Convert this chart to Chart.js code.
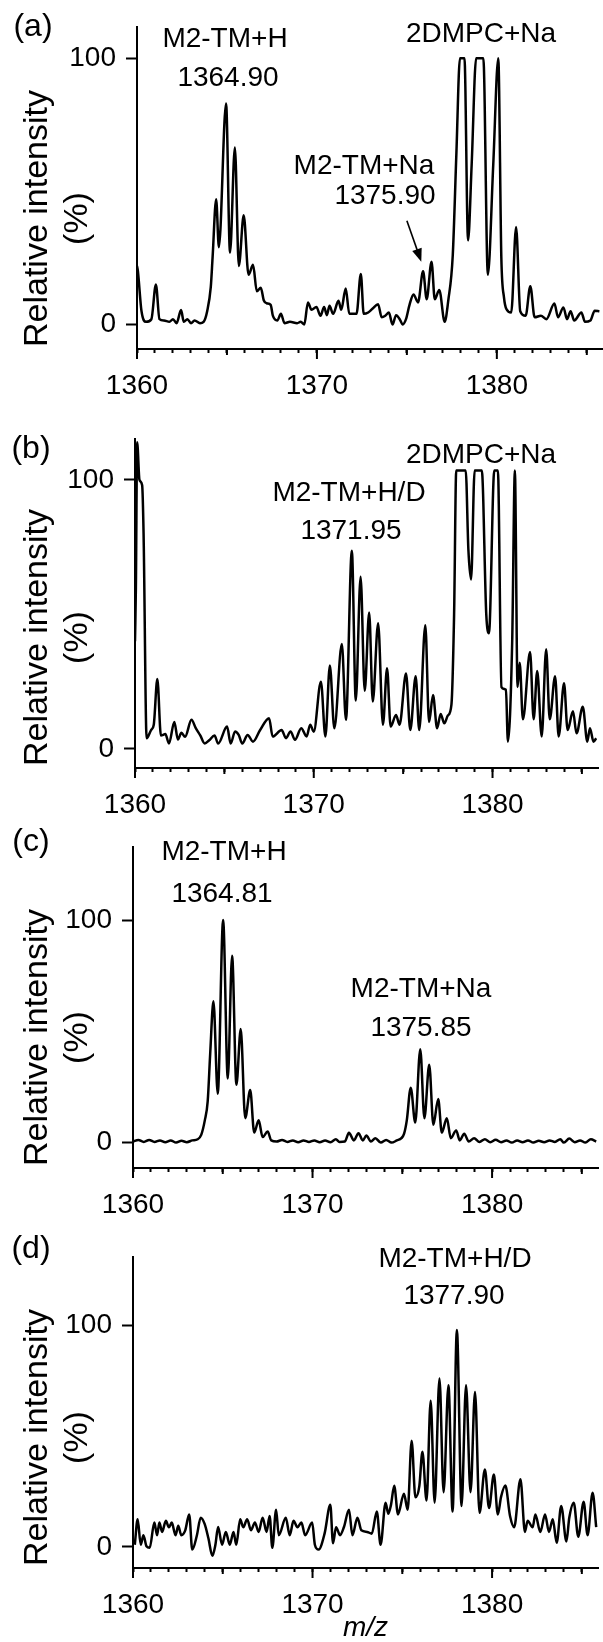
<!DOCTYPE html>
<html>
<head>
<meta charset="utf-8">
<script src="https://cdn.jsdelivr.net/npm/chart.js@4.4.1/dist/chart.umd.min.js"></script>
<style>
  body { margin: 0; background: #fff; width: 603px; height: 1642px; position: relative; overflow: hidden;
         font-family: "Liberation Sans", Arial, sans-serif; }
  canvas { position: absolute; left: 0; }
  .lbl { position: absolute; font-size: 28px; line-height: 1; color: #000; white-space: nowrap;
         transform: translate(-50%, -50%); }
  .tag { font-size: 32px; }
</style>
</head>
<body>
<canvas id="chartA" width="603" height="410" style="top:0px"></canvas>
<canvas id="chartB" width="603" height="410" style="top:410px"></canvas>
<canvas id="chartC" width="603" height="410" style="top:820px"></canvas>
<canvas id="chartD" width="603" height="412" style="top:1230px"></canvas>

<!-- panel tags and peak labels -->
<div class="lbl tag" style="left:33px;top:25px">(a)</div>
<div class="lbl" style="left:225px;top:38px">M2-TM+H</div>
<div class="lbl" style="left:228px;top:77px">1364.90</div>
<div class="lbl" style="left:481px;top:33px">2DMPC+Na</div>
<div class="lbl" style="left:364px;top:165px">M2-TM+Na</div>
<div class="lbl" style="left:385px;top:195px">1375.90</div>

<div class="lbl tag" style="left:31px;top:447px">(b)</div>
<div class="lbl" style="left:481px;top:454px">2DMPC+Na</div>
<div class="lbl" style="left:349px;top:492px">M2-TM+H/D</div>
<div class="lbl" style="left:351px;top:530px">1371.95</div>

<div class="lbl tag" style="left:31px;top:840px">(c)</div>
<div class="lbl" style="left:224px;top:851px">M2-TM+H</div>
<div class="lbl" style="left:222px;top:893px">1364.81</div>
<div class="lbl" style="left:421px;top:988px">M2-TM+Na</div>
<div class="lbl" style="left:421px;top:1027px">1375.85</div>

<div class="lbl tag" style="left:31px;top:1247px">(d)</div>
<div class="lbl" style="left:455px;top:1258px">M2-TM+H/D</div>
<div class="lbl" style="left:454px;top:1295px">1377.90</div>

<script>
// ---- data (m/z, relative intensity %) ----
const mzA = [1360.0, 1360.05, 1360.25, 1360.5, 1360.8, 1361.05, 1361.25, 1361.5, 1361.8, 1362.0, 1362.2, 1362.45, 1362.6, 1362.8, 1363.0, 1363.2, 1363.5, 1363.7, 1363.9, 1364.1, 1364.2, 1364.4, 1364.55, 1364.95, 1365.17, 1365.44, 1365.66, 1365.93, 1366.2, 1366.45, 1366.66, 1366.88, 1367.05, 1367.2, 1367.43, 1367.55, 1367.8, 1368.0, 1368.2, 1368.5, 1368.9, 1369.1, 1369.3, 1369.5, 1369.7, 1369.97, 1370.2, 1370.4, 1370.55, 1370.7, 1370.9, 1371.2, 1371.35, 1371.6, 1371.8, 1372.2, 1372.44, 1372.6, 1372.85, 1373.1, 1373.4, 1373.6, 1373.8, 1374.0, 1374.2, 1374.4, 1374.6, 1374.77, 1374.95, 1375.15, 1375.37, 1375.62, 1375.9, 1376.1, 1376.37, 1376.55, 1376.8, 1377.1, 1377.3, 1377.55, 1377.75, 1377.95, 1378.2, 1378.4, 1378.6, 1378.85, 1379.25, 1379.5, 1379.8, 1380.08, 1380.25, 1380.4, 1380.53, 1380.8, 1381.07, 1381.3, 1381.6, 1381.86, 1382.1, 1382.45, 1382.75, 1383.2, 1383.4, 1383.7, 1383.9, 1384.1, 1384.3, 1384.7, 1384.9, 1385.2, 1385.44, 1385.7];
const intA = [22, 20, 5, 1, 2, 15, 2, 1.5, 1, 2, 0.5, 5.4, 1, 2, 0.5, 1.5, 0.5, 1, 5, 14, 25, 47, 29, 83, 27, 66.5, 22, 41, 18.7, 22.4, 12.5, 13.8, 9, 8, 7.4, 3.3, 1.5, 4, 0.5, 1, 0.5, 1, 0, 8.3, 5.5, 6.6, 3.3, 6.6, 3.5, 7, 4, 8.9, 5.5, 13.5, 4, 4, 19, 4, 4.5, 6, 7.6, 2.7, 3.3, 4.5, 0, 3.5, 2, 0, 2, 7.5, 11.3, 8.3, 20, 9.5, 23.6, 9.5, 13, 1, 9, 26, 64, 100, 100, 31.6, 60, 100, 100, 18.7, 60, 100, 25, 10, 5.8, 4.5, 36.6, 5, 3.3, 14.4, 2.7, 3.3, 2, 7.9, 2.7, 6.4, 2, 5, 1.5, 4.5, 1, 1.5, 5.2, 5];

const mzB = [1360.0, 1360.05, 1360.12, 1360.25, 1360.4, 1360.48, 1360.65, 1360.9, 1361.05, 1361.25, 1361.45, 1361.7, 1361.9, 1362.2, 1362.4, 1362.6, 1362.8, 1363.16, 1363.4, 1363.65, 1363.9, 1364.15, 1364.45, 1364.65, 1365.15, 1365.35, 1365.6, 1365.8, 1366.0, 1366.3, 1366.6, 1367.0, 1367.5, 1367.7, 1368.2, 1368.45, 1368.7, 1368.95, 1369.3, 1369.6, 1369.8, 1370.0, 1370.4, 1370.65, 1370.9, 1371.15, 1371.57, 1371.8, 1372.13, 1372.35, 1372.62, 1372.85, 1373.1, 1373.3, 1373.6, 1373.87, 1374.1, 1374.3, 1374.6, 1374.8, 1375.16, 1375.4, 1375.7, 1375.9, 1376.24, 1376.45, 1376.67, 1376.9, 1377.1, 1377.3, 1377.5, 1377.7, 1377.85, 1377.97, 1378.5, 1378.65, 1378.8, 1379.0, 1379.4, 1379.65, 1379.8, 1380.1, 1380.3, 1380.5, 1380.75, 1380.86, 1381.1, 1381.25, 1381.4, 1381.52, 1381.7, 1382.1, 1382.3, 1382.5, 1382.75, 1383.0, 1383.2, 1383.5, 1383.7, 1384.0, 1384.2, 1384.5, 1384.7, 1385.05, 1385.3, 1385.45, 1385.65, 1385.8];
const intB = [40, 60, 114, 100, 98, 80, 4, 7, 9, 26, 5, 5.5, 2, 10, 3.5, 6, 4.5, 10.8, 7.7, 5, 2, 3.2, 5, 2, 8.3, 2, 6.5, 5.2, 2, 5.2, 2.7, 7, 11.4, 4.6, 7, 4, 6.5, 3.4, 7.7, 4.6, 9, 6.4, 25, 4.6, 31, 7.7, 39, 10.8, 73.7, 18, 64, 21.6, 50.7, 17.6, 46.7, 9, 30, 8.3, 12.6, 9, 28, 7, 27, 7, 46, 10, 20, 7.7, 13, 9.5, 12.4, 16.4, 50, 103.5, 103.5, 74, 63, 103.5, 103.5, 50, 43, 103.5, 103.5, 23, 22, 2.7, 40, 103.5, 23, 32, 11, 36, 11, 29, 4.6, 37, 11, 27, 4.6, 24.4, 7, 14, 5.8, 15.7, 2.7, 7.7, 2.7, 4];

const mzC = [1360.0, 1360.3, 1360.6, 1360.9, 1361.2, 1361.5, 1361.8, 1362.1, 1362.4, 1362.7, 1363.0, 1363.3, 1363.6, 1363.8, 1364.0, 1364.16, 1364.3, 1364.48, 1364.72, 1365.02, 1365.28, 1365.52, 1365.76, 1366.0, 1366.25, 1366.53, 1366.75, 1367.0, 1367.22, 1367.5, 1367.7, 1368.0, 1368.3, 1368.6, 1368.9, 1369.2, 1369.5, 1369.8, 1370.1, 1370.4, 1370.7, 1371.0, 1371.3, 1371.5, 1371.8, 1372.03, 1372.3, 1372.56, 1372.8, 1373.0, 1373.25, 1373.5, 1373.8, 1374.1, 1374.4, 1374.7, 1374.95, 1375.1, 1375.25, 1375.47, 1375.72, 1376.0, 1376.23, 1376.5, 1376.73, 1377.0, 1377.2, 1377.48, 1377.7, 1378.0, 1378.2, 1378.45, 1378.7, 1379.0, 1379.3, 1379.6, 1379.9, 1380.2, 1380.5, 1380.8, 1381.1, 1381.4, 1381.7, 1382.0, 1382.3, 1382.6, 1382.9, 1383.2, 1383.5, 1383.8, 1384.0, 1384.3, 1384.6, 1384.9, 1385.2, 1385.5, 1385.8];
const intC = [0.5, 1.2, 0.3, 1.2, 0.3, 1, 0.2, 1, 0, 0.8, 0.2, 1, 1.5, 3.5, 10, 18.5, 40, 63.5, 22, 100, 28.8, 84, 26, 51, 11, 23.6, 4.5, 10, 2.5, 5, 1, 0.5, 1.2, 0.3, 1, 0.2, 1, 0.3, 1, 0.2, 1, 0.2, 1.5, 0.3, 0.5, 4.4, 1, 4.2, 1, 3.2, 0.5, 2, 0, 1.2, 0, 1, 2, 4, 10, 24.7, 9, 42, 11, 35, 8, 19.6, 4.5, 11, 2, 5.5, 1, 4, 0.5, 2, 0.3, 1.5, 0.2, 1.3, 0.2, 1, 0, 1, 0.2, 1, 0, 0.8, 0.2, 1, 0.3, 1.5, 0, 1.8, 0.2, 1, 0, 1.5, 0.5];

const mzD = [1360.1, 1360.26, 1360.43, 1360.58, 1360.75, 1360.93, 1361.19, 1361.34, 1361.47, 1361.62, 1361.83, 1362.0, 1362.16, 1362.37, 1362.52, 1362.69, 1362.91, 1363.13, 1363.3, 1363.56, 1363.77, 1363.99, 1364.2, 1364.42, 1364.59, 1364.74, 1364.96, 1365.17, 1365.39, 1365.6, 1365.75, 1365.97, 1366.14, 1366.36, 1366.57, 1366.79, 1367.0, 1367.22, 1367.44, 1367.61, 1367.76, 1367.97, 1368.12, 1368.51, 1368.73, 1368.94, 1369.16, 1369.38, 1369.59, 1369.98, 1370.13, 1370.34, 1370.67, 1370.99, 1371.14, 1371.31, 1371.53, 1371.75, 1372.03, 1372.22, 1372.5, 1372.72, 1373.04, 1373.3, 1373.58, 1373.79, 1374.07, 1374.22, 1374.37, 1374.55, 1374.76, 1375.09, 1375.3, 1375.52, 1375.73, 1375.95, 1376.12, 1376.35, 1376.58, 1376.8, 1377.07, 1377.3, 1377.57, 1377.8, 1378.04, 1378.3, 1378.55, 1378.8, 1379.05, 1379.3, 1379.6, 1379.83, 1380.1, 1380.32, 1380.5, 1380.74, 1381.0, 1381.23, 1381.58, 1381.83, 1381.98, 1382.26, 1382.41, 1382.69, 1382.95, 1383.17, 1383.38, 1383.6, 1383.85, 1384.14, 1384.3, 1384.55, 1384.8, 1385.1, 1385.32, 1385.6, 1385.8];
const intD = [1, 12.5, 1, 5.3, 0.3, -0.4, 11, 5.3, 11, 6.8, 11.8, 8.9, 11, 5.3, 9.6, 5.3, 7.5, 14.7, -1.2, 5.3, 13.2, 10.4, 3.9, -4, 1, 9, 1, 6.8, 1, 6.8, 1, 12.5, 8.9, 12.5, 7.5, 11, 6.8, 13.2, 6.8, 14, -0.4, 16.8, 5.3, 13.2, 5.3, 11.8, 8.9, 11, 5.3, 11, 1, -1.2, 6, 19, 1.7, 8.9, 5.3, 9, 16.8, 5.3, 13.2, 7.5, 6.8, 6, 16, 1, 20, 15, 19, 27.6, 14.7, 24, 16.8, 48, 22.4, 27.6, 43, 21, 66, 20, 76, 24.7, 73, 16, 98, 18.5, 73, 24.7, 70, 15.4, 35, 17.6, 32.7, 14.7, 22.6, 27.7, 14, 8.9, 30.6, 6.8, 11.8, 8.9, 14.7, 6.8, 14.7, 6.8, 12.5, 1.9, 18.5, 2.5, 13.2, 20, 4.6, 20.4, 5.3, 24.5, 8.9];

// axis ticks and titles
const xMinorTicks = [1360, 1361, 1362, 1363, 1364, 1365, 1366, 1367, 1368, 1369, 1370, 1371, 1372, 1373, 1374, 1375, 1376, 1377, 1378, 1379, 1380, 1381, 1382, 1383, 1384, 1385];
const xMajorTicks = [1360, 1365, 1370, 1375, 1380, 1385];
const xLabelTicks = [1360, 1370, 1380];
const yTicks = [0, 100];
const yTitleLines = ['Relative intensity', '(%)'];

// arrow pointing at the M2-TM+Na peak in (a): [m/z, intensity]
const arrowFrom = [1375.0, 39];
const arrowTo = [1375.8, 23.6];

const FONT = '"Liberation Sans", Arial, sans-serif';

const longTicks = {
  id: 'longTicks',
  afterDraw(chart) {
    const xs = chart.scales.x;
    const ctx = chart.ctx;
    ctx.save();
    ctx.strokeStyle = '#000';
    ctx.lineWidth = 2;
    xMajorTicks.forEach(v => {
      const px = xs.getPixelForValue(v);
      const len = xLabelTicks.includes(v) ? 10 : 6;
      ctx.beginPath();
      ctx.moveTo(px, xs.top);
      ctx.lineTo(px, xs.top + len);
      ctx.stroke();
    });
    ctx.restore();
  }
};

// two-line rotated y title, second line centred under the first
const yTitle = {
  id: 'yTitle',
  afterDraw(chart) {
    const ys = chart.scales.y;
    const ctx = chart.ctx;
    ctx.save();
    ctx.fillStyle = '#000';
    ctx.font = '34px ' + FONT;
    ctx.translate(38, ys.bottom - 2);
    ctx.rotate(-Math.PI / 2);
    ctx.textBaseline = 'middle';
    ctx.textAlign = 'left';
    ctx.fillText(yTitleLines[0], 0, 0);
    const w = ctx.measureText(yTitleLines[0]).width;
    ctx.textAlign = 'center';
    ctx.fillText(yTitleLines[1], w / 2, 40);
    ctx.restore();
  }
};

const arrowPlugin = {
  id: 'arrowA',
  afterDatasetsDraw(chart) {
    const { x, y } = chart.scales;
    const x0 = x.getPixelForValue(arrowFrom[0]), y0 = y.getPixelForValue(arrowFrom[1]);
    const x1 = x.getPixelForValue(arrowTo[0]), y1 = y.getPixelForValue(arrowTo[1]);
    const ang = Math.atan2(y1 - y0, x1 - x0);
    const ctx = chart.ctx;
    ctx.save();
    ctx.strokeStyle = '#000';
    ctx.fillStyle = '#000';
    ctx.lineWidth = 1.6;
    ctx.beginPath();
    ctx.moveTo(x0, y0);
    ctx.lineTo(x1 - 8 * Math.cos(ang), y1 - 8 * Math.sin(ang));
    ctx.stroke();
    ctx.beginPath();
    ctx.moveTo(x1, y1);
    ctx.lineTo(x1 - 13 * Math.cos(ang) + 5 * Math.sin(ang), y1 - 13 * Math.sin(ang) - 5 * Math.cos(ang));
    ctx.lineTo(x1 - 13 * Math.cos(ang) - 5 * Math.sin(ang), y1 - 13 * Math.sin(ang) + 5 * Math.cos(ang));
    ctx.closePath();
    ctx.fill();
    ctx.restore();
  }
};

function makePanel(id, mz, inten, cfg) {
  return new Chart(document.getElementById(id), {
    type: 'line',
    data: {
      datasets: [{
        data: mz.map((m, i) => ({ x: m, y: inten[i] })),
        borderColor: '#000',
        borderWidth: 2.5,
        pointRadius: 0,
        cubicInterpolationMode: 'monotone',
        fill: false
      }]
    },
    options: {
      responsive: false,
      animation: false,
      events: [],
      layout: { padding: { top: cfg.top, right: cfg.right, left: 0, bottom: 0 } },
      plugins: { legend: { display: false }, tooltip: { enabled: false } },
      scales: {
        x: {
          type: 'linear',
          min: 1360,
          max: 1385.9,
          afterBuildTicks: s => { s.ticks = xMinorTicks.map(v => ({ value: v })); },
          afterFit: s => { s.height = cfg.xh; },
          ticks: {
            autoSkip: false,
            maxRotation: 0,
            padding: 16,
            color: '#000',
            font: { family: FONT, size: 28 },
            callback: v => (xLabelTicks.includes(v) ? String(v) : '')
          },
          grid: { drawOnChartArea: false, tickLength: 4, tickWidth: 2, tickColor: '#000' },
          border: { color: '#000', width: 2 },
          title: {
            display: !!cfg.xTitle,
            text: cfg.xTitle || '',
            color: '#000',
            font: { family: FONT, size: 28, style: 'italic', lineHeight: 1 },
            padding: { top: 0, bottom: 0 }
          }
        },
        y: {
          min: cfg.ymin,
          max: cfg.ymax,
          afterBuildTicks: s => { s.ticks = yTicks.map(v => ({ value: v })); },
          afterFit: s => { s.width = cfg.yw; },
          ticks: { padding: 10, color: '#000', font: { family: FONT, size: 28 } },
          grid: { drawOnChartArea: false, tickLength: 11, tickWidth: 2, tickColor: '#000' },
          border: { color: '#000', width: 2 }
        }
      }
    },
    plugins: cfg.arrow ? [longTicks, yTitle, arrowPlugin] : [longTicks, yTitle]
  });
}

makePanel('chartA', mzA, intA, { top: 21, right: 0, yw: 137, xh: 61, ymin: -9.2, ymax: 111.8, arrow: true });
makePanel('chartB', mzB, intB, { top: 29, right: 5, yw: 135, xh: 52, ymin: -7.1, ymax: 115.2 });
makePanel('chartC', mzC, intC, { top: 19, right: 5, yw: 133, xh: 62, ymin: -11.4, ymax: 132.9 });
makePanel('chartD', mzD, intD, { top: 12, right: 5, yw: 133, xh: 74, ymin: -9.5, ymax: 131, xTitle: 'm/z' });
</script>
</body>
</html>
